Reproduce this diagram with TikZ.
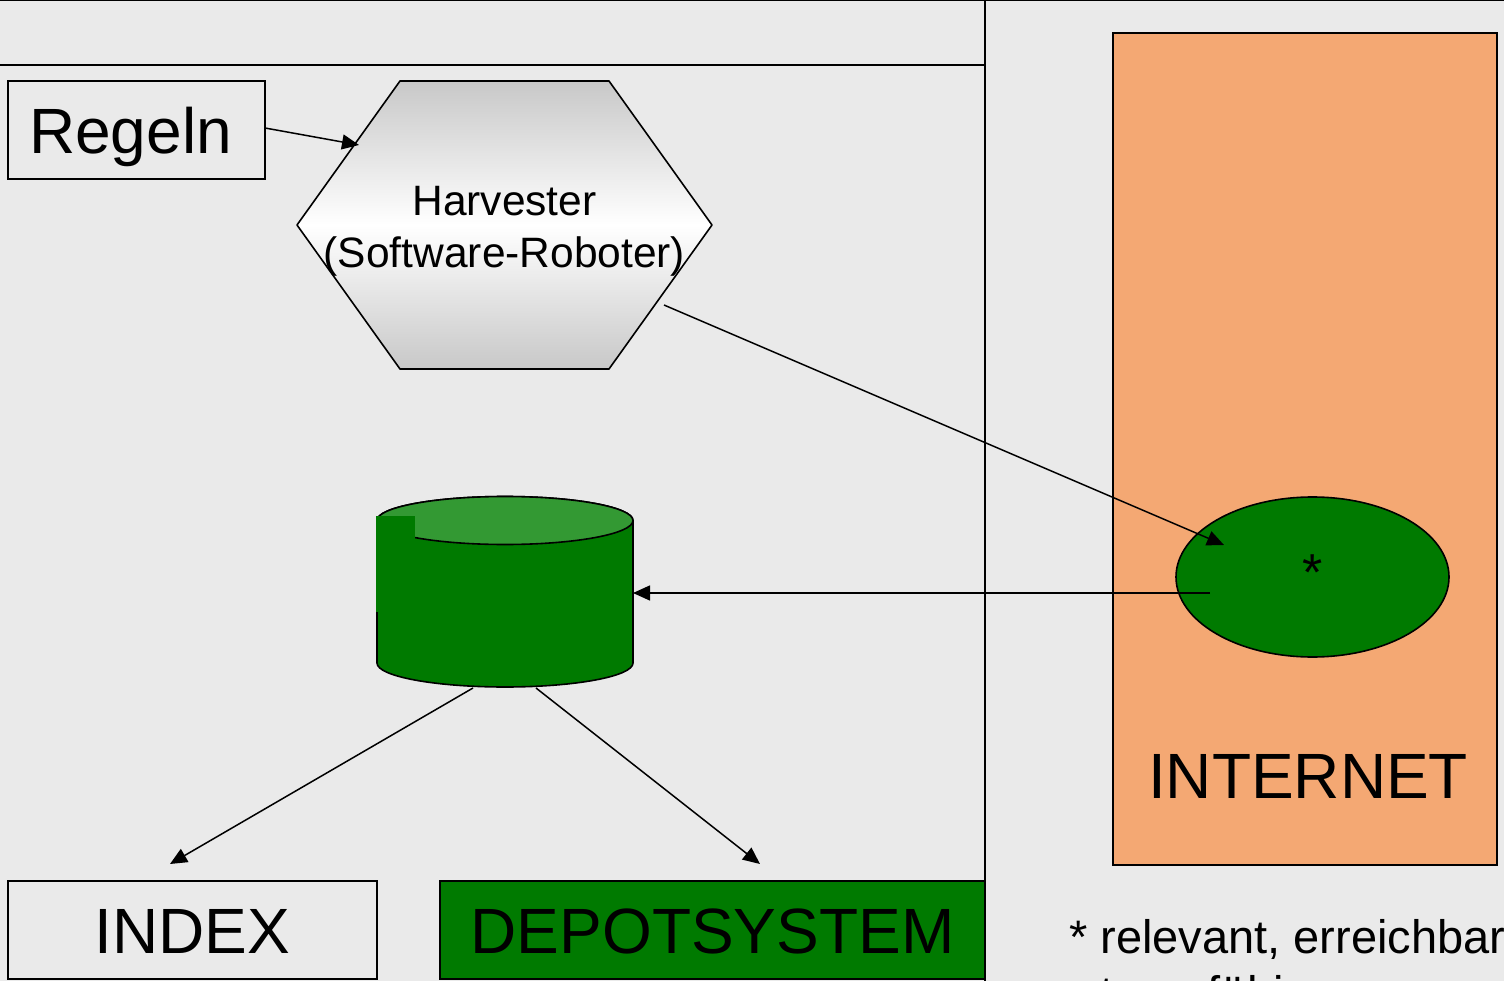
\documentclass[tikz,border=0pt]{standalone}
\usepackage{fontspec}
\setmainfont{Liberation Sans}
\usetikzlibrary{shapes.geometric,arrows.meta}

\definecolor{panelgray}{HTML}{EAEAEA}
\definecolor{depotgreen}{HTML}{007A00}
\definecolor{topgreen}{HTML}{339933}
\definecolor{netorange}{HTML}{F4A873}
\definecolor{hexgray}{HTML}{C8C8C8}

\tikzset{
  frame/.style={draw=black,line width=1.6pt},
  box/.style={draw=black,line width=1.6pt,rectangle,inner sep=0pt},
  boxtext/.style={inner sep=0pt,anchor=base,font=\fontsize{64}{70}\selectfont},
  label/.style={inner sep=0pt,font=\fontsize{42.5}{52}\selectfont,align=center},
  note/.style={inner sep=0pt,anchor=base west,font=\fontsize{47}{54}\selectfont},
  link/.style={draw=black,line width=1.5pt,-{Triangle[length=17pt,width=15pt]}}
}

\begin{document}
\begin{tikzpicture}[x=1pt,y=-1pt]
\useasboundingbox[fill=panelgray] (0,0) rectangle (1504,981);
\draw[frame] (0,0.5) -- (1504,0.5);
\draw[frame] (0,65) -- (985,65);
\draw[frame] (985,0) -- (985,981);

\node[box,minimum width=257pt,minimum height=98pt] (regeln) at (136.5,130) {};
\node[boxtext] (regelnlabel) at (130.5,154) {Regeln};
\node[box,minimum width=369pt,minimum height=98pt] (index) at (192.5,930) {};
\node[boxtext] (indexlabel) at (192.5,953) {INDEX};
\node[box,fill=depotgreen,minimum width=545pt,minimum height=98pt] (depotsystem) at (712.5,930) {};
\node[boxtext] (depotlabel) at (712.5,953) {DEPOTSYSTEM};
\node[box,fill=netorange,minimum width=384pt,minimum height=832pt] (internet) at (1305,449) {};
\node[boxtext] (internetlabel) at (1308,798) {INTERNET};

% harvester
\begin{scope}
\clip (297,225) -- (400,81) -- (609,81) -- (712,225) -- (609,369) -- (400,369) -- cycle;
\fill[top color=hexgray,bottom color=white] (290,81) rectangle (720,225);
\fill[top color=white,bottom color=hexgray] (290,225) rectangle (720,369);
\end{scope}
\draw[frame,line join=round] (297,225) -- (400,81) -- (609,81) -- (712,225) -- (609,369) -- (400,369) -- cycle;
\node[label] (harvester) at (504.5,231) {Harvester\\(Software-Roboter)};

% depot
\draw[frame,fill=depotgreen] (377,520.5) -- (377,663)
  arc[start angle=180,end angle=0,x radius=128,y radius=24] -- (633,520.5)
  arc[start angle=0,end angle=-180,x radius=128,y radius=24] -- cycle;
\draw[frame,fill=topgreen] (505,520.5) ellipse[x radius=128,y radius=24];
\fill[depotgreen] (376,516) rectangle (415,612);

\node[ellipse,draw=black,line width=1.6pt,fill=depotgreen,minimum width=273pt,minimum height=160pt,inner sep=0pt] (relevant) at (1312.5,577) {};
\node[inner sep=0pt,font=\fontsize{52}{60}\selectfont] (star) at (1312.5,573) {*};

\coordinate (regelnout) at (265,128);
\coordinate (hexin) at (359,145);
\coordinate (hexout) at (664,305);
\coordinate (netin) at (1224,545);
\coordinate (netout) at (1210,593);
\coordinate (depotin) at (633,593);
\coordinate (depotleft) at (473,688);
\coordinate (depotright) at (536,688);
\coordinate (indexin) at (170,864);
\coordinate (systemin) at (760,864);

\draw[link] (regelnout) -- (hexin);
\draw[link] (hexout) -- (netin);
\draw[link] (netout) -- (depotin);
\draw[link] (depotleft) -- (indexin);
\draw[link] (depotright) -- (systemin);

\begin{scope}
\clip (0,0) rectangle (1504,981);
\node[note] (notefirst) at (1069,953) {* relevant, erreichbar};
\node[note] (notesecond) at (1077,1009) {steuerfähig};
\end{scope}
\end{tikzpicture}
\end{document}
